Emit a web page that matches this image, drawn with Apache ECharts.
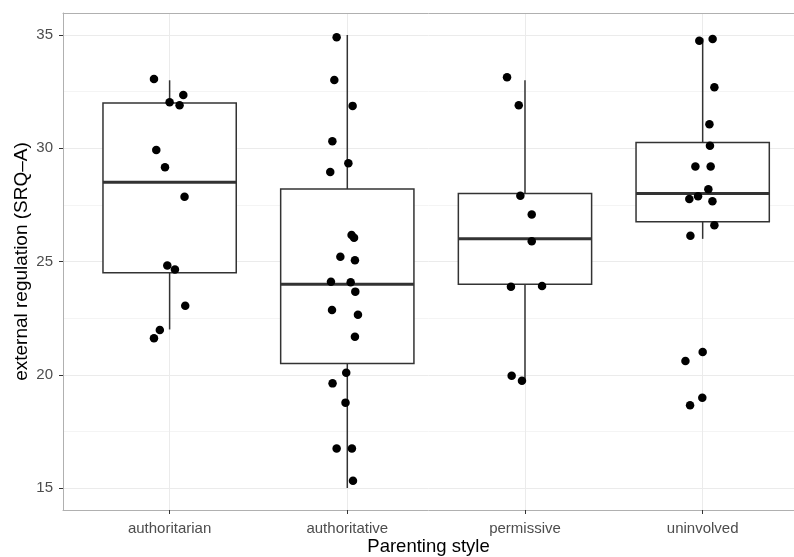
<!DOCTYPE html>
<html>
<head>
<meta charset="utf-8">
<script src="https://cdn.jsdelivr.net/npm/echarts@6/dist/echarts.min.js"></script>
<style>
html,body{margin:0;padding:0;background:#fff;}
#chart{width:794px;height:557px;}
</style>
</head>
<body>
<div id="chart"></div>
<script>
// ---- data ----
const categories = ['authoritarian', 'authoritative', 'permissive', 'uninvolved'];
const yTicks = [15, 20, 25, 30, 35];
const yMinorTicks = [17.5, 22.5, 27.5, 32.5];

// box statistics: lower whisker, Q1, median, Q3, upper whisker
const whiskerLow  = [22.0, 15.0, 19.75, 26.0];
const q1          = [24.5, 20.5, 24.0, 26.75];
const medians     = [28.5, 24.0, 26.0, 28.0];
const q3          = [32.0, 28.2, 28.0, 30.25];
const whiskerHigh = [33.0, 35.0, 33.0, 34.85];

// jittered observations (value, horizontal jitter in category units)
const authoritarianY  = [33.06, 32.35, 32.03, 31.9, 29.92, 29.16, 27.86, 24.82, 24.65, 23.05, 21.98, 21.61];
const authoritarianDx = [-0.088, 0.077, 0.0, 0.056, -0.075, -0.026, 0.084, -0.013, 0.030, 0.088, -0.055, -0.088];

const authoritativeY  = [34.9, 33.01, 31.87, 30.31, 29.34, 28.95, 26.17, 26.05, 25.21, 25.05, 24.11, 24.08, 23.67, 22.86, 22.65, 21.68, 20.09, 19.62, 18.77, 16.74, 16.74, 15.32];
const authoritativeDx = [-0.060, -0.073, 0.030, -0.084, 0.006, -0.096, 0.024, 0.038, -0.039, 0.043, -0.092, 0.019, 0.045, -0.086, 0.060, 0.043, -0.006, -0.083, -0.010, -0.060, 0.026, 0.032];

const permissiveY  = [33.13, 31.9, 27.9, 27.07, 25.89, 23.89, 23.92, 19.96, 19.74];
const permissiveDx = [-0.101, -0.035, -0.026, 0.038, 0.038, -0.079, 0.096, -0.075, -0.017];

const uninvolvedY  = [34.74, 34.82, 32.69, 31.06, 30.11, 29.19, 29.19, 28.19, 27.88, 27.76, 27.66, 26.6, 26.14, 21.0, 20.61, 18.99, 18.65];
const uninvolvedDx = [-0.019, 0.056, 0.066, 0.038, 0.041, -0.041, 0.045, 0.032, -0.026, -0.075, 0.055, 0.066, -0.069, 0.0, -0.097, -0.002, -0.071];

// ---- build library data ----
const groupsY  = [authoritarianY, authoritativeY, permissiveY, uninvolvedY];
const groupsDx = [authoritarianDx, authoritativeDx, permissiveDx, uninvolvedDx];

const boxData = categories.map((c, i) => [i + 1, whiskerLow[i], q1[i], medians[i], q3[i], whiskerHigh[i]]);
const pointData = [];
groupsY.forEach((ys, g) => {
  ys.forEach((y, k) => pointData.push([g + 1 + groupsDx[g][k], y]));
});

const FONT = '"Liberation Sans", Arial, Helvetica, sans-serif';
const LINE = '#333333';
const BORDER = '#b0b0b0';
const X_MIN = 0.4, X_MAX = 4.514;   // right part of the panel is cropped in the reference
const Y_MIN = 14.03, Y_MAX = 35.97;

const chart = echarts.init(document.getElementById('chart'), null, {renderer: 'canvas'});

function renderBox(params, api) {
  const x = api.value(0);
  const lo = api.coord([x, api.value(1)]);
  const b1 = api.coord([x, api.value(2)]);
  const md = api.coord([x, api.value(3)]);
  const b3 = api.coord([x, api.value(4)]);
  const hi = api.coord([x, api.value(5)]);
  const w = api.size([0.75, 0])[0];
  const cx = lo[0];
  const left = cx - w / 2;
  return {
    type: 'group',
    children: [
      {type: 'line', shape: {x1: cx, y1: b3[1], x2: cx, y2: hi[1]}, style: {stroke: LINE, lineWidth: 1.5}},
      {type: 'line', shape: {x1: cx, y1: b1[1], x2: cx, y2: lo[1]}, style: {stroke: LINE, lineWidth: 1.5}},
      {type: 'rect', shape: {x: left, y: b3[1], width: w, height: b1[1] - b3[1]}, style: {fill: '#ffffff', stroke: LINE, lineWidth: 1.5}},
      {type: 'line', shape: {x1: left, y1: md[1], x2: left + w, y2: md[1]}, style: {stroke: LINE, lineWidth: 3}}
    ]
  };
}

const option = {
  backgroundColor: '#ffffff',
  animation: false,
  grid: {left: 63, right: 0, top: 13, bottom: 47, show: false, containLabel: false, outerBoundsMode: 'none'},
  xAxis: [{
    type: 'value', min: X_MIN, max: X_MAX, position: 'bottom',
    name: 'Parenting style', nameLocation: 'middle', nameGap: 27, nameMoveOverlap: false,
    nameTextStyle: {fontFamily: FONT, fontSize: 18.5, color: '#000'},
    axisLine: {show: true, onZero: false, lineStyle: {color: BORDER, width: 1}},
    axisTick: {show: true, length: 4, customValues: [1, 2, 3, 4], lineStyle: {color: LINE, width: 1}},
    axisLabel: {customValues: [1, 2, 3, 4], margin: 11, fontFamily: FONT, fontSize: 15, color: '#4d4d4d',
      formatter: v => categories[Math.round(v) - 1] || ''},
    splitLine: {show: true, lineStyle: {color: '#ebebeb', width: 1}}
  }, {
    type: 'value', min: X_MIN, max: X_MAX, position: 'top',
    axisLine: {show: true, onZero: false, lineStyle: {color: BORDER, width: 1}},
    axisTick: {show: false}, axisLabel: {show: false}, splitLine: {show: false}
  }],
  yAxis: [{
    type: 'value', min: Y_MIN, max: Y_MAX, position: 'left',
    name: 'external regulation (SRQ\u2013A)', nameLocation: 'middle', nameGap: 32, nameRotate: 90, nameMoveOverlap: false,
    nameTextStyle: {fontFamily: FONT, fontSize: 19, color: '#000'},
    axisLine: {show: true, onZero: false, lineStyle: {color: BORDER, width: 1}},
    axisTick: {show: true, length: 4, customValues: yTicks, lineStyle: {color: LINE, width: 1}},
    axisLabel: {customValues: yTicks, margin: 10, fontFamily: FONT, fontSize: 15, color: '#4d4d4d'},
    splitLine: {show: true, lineStyle: {color: '#ebebeb', width: 1}}
  }, {
    type: 'value', min: Y_MIN, max: Y_MAX, position: 'left',
    axisLine: {show: false},
    axisTick: {show: false, customValues: yMinorTicks},
    axisLabel: {show: false, customValues: yMinorTicks},
    splitLine: {show: true, lineStyle: {color: '#f4f4f4', width: 1}}
  }],
  series: [{
    type: 'custom',
    name: 'box',
    renderItem: renderBox,
    encode: {x: 0, y: [1, 2, 3, 4, 5]},
    data: boxData,
    z: 2,
    silent: true
  }, {
    type: 'scatter',
    name: 'points',
    data: pointData,
    symbol: 'circle',
    symbolSize: 8.5,
    itemStyle: {color: '#000000', opacity: 1},
    z: 3,
    silent: true
  }]
};
chart.setOption(option);
</script>
</body>
</html>
